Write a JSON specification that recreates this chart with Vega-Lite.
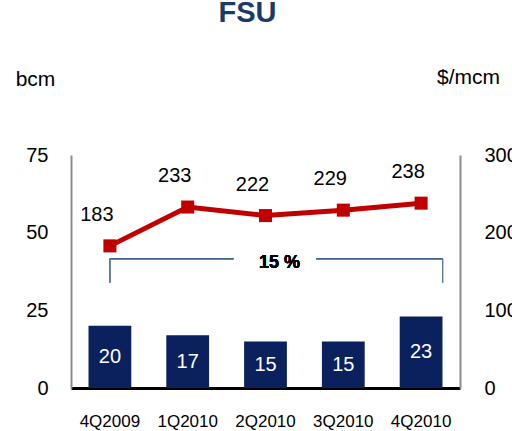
{
  "$schema": "https://vega.github.io/schema/vega-lite/v6.json",
  "width": 389,
  "height": 233,
  "autosize": "none",
  "padding": {"left": 71, "top": 155, "right": 52, "bottom": 43},
  "background": "white",
  "config": {"view": {"stroke": null}, "font": "Liberation Sans"},
  "title": {"text": "FSU", "fontSize": 29, "fontWeight": "bold", "color": "#1B3A66", "anchor": "middle", "frame": "group", "offset": 38, "dx": -18, "font": "Liberation Sans"},
  "data": {"values": [
    {"q": "4Q2009", "bcm": 20, "price": 183},
    {"q": "1Q2010", "bcm": 17, "price": 233},
    {"q": "2Q2010", "bcm": 15, "price": 222},
    {"q": "3Q2010", "bcm": 15, "price": 229},
    {"q": "4Q2010", "bcm": 23, "price": 238}
  ]},
  "layer": [
    {
      "mark": {"type": "bar", "color": "#0A215E"},
      "encoding": {
        "x": {"field": "q", "type": "nominal", "sort": null,
              "scale": {"paddingInner": 0.45, "paddingOuter": 0.225},
              "axis": {"title": null, "labelAngle": 0, "ticks": false, "domainColor": "#000000", "domainWidth": 3, "labelPadding": 25, "labelFontSize": 17, "labelColor": "#000000", "labelBaseline": "top"}},
        "y": {"field": "bcm", "type": "quantitative", "scale": {"domain": [0, 75]},
              "axis": {"values": [0, 25, 50, 75], "grid": false, "ticks": false, "domainColor": "#8C8C8C", "domainWidth": 2, "labelPadding": 23, "labelFontSize": 20, "labelColor": "#000000",
                       "title": "bcm", "titleAngle": 0, "titleX": -36, "titleY": -70, "titleAlign": "center", "titleBaseline": "alphabetic", "titleFontSize": 21, "titleFontWeight": "normal", "titleColor": "#000000"}}
      }
    },
    {
      "mark": {"type": "text", "color": "#FFFFFF", "fontSize": 20, "baseline": "middle"},
      "encoding": {
        "x": {"field": "q", "type": "nominal", "sort": null},
        "y": {"field": "bcm", "type": "quantitative", "scale": {"domain": [0, 150]}, "axis": null},
        "text": {"field": "bcm", "type": "quantitative"}
      }
    },
    {
      "mark": {"type": "line", "color": "#C00000", "strokeWidth": 5, "point": {"shape": "square", "size": 170, "filled": true, "color": "#C00000"}},
      "encoding": {
        "x": {"field": "q", "type": "nominal", "sort": null},
        "y": {"field": "price", "type": "quantitative", "scale": {"domain": [0, 300]},
              "axis": {"orient": "right", "values": [0, 100, 200, 300], "grid": false, "ticks": false, "domainColor": "#8C8C8C", "domainWidth": 2, "labelPadding": 24, "labelFontSize": 20, "labelColor": "#000000",
                       "title": "$/mcm", "titleAngle": 0, "titleX": 8, "titleY": -72, "titleAlign": "center", "titleBaseline": "alphabetic", "titleFontSize": 21, "titleFontWeight": "normal", "titleColor": "#000000"}}
      }
    },
    {
      "mark": {"type": "text", "color": "#000000", "fontSize": 20, "baseline": "middle", "dx": -13, "dy": -31},
      "encoding": {
        "x": {"field": "q", "type": "nominal", "sort": null},
        "y": {"field": "price", "type": "quantitative", "scale": {"domain": [0, 300]}, "axis": null},
        "text": {"field": "price", "type": "quantitative"}
      }
    },
    {
      "mark": {"type": "rule", "color": "#3F5F8A", "strokeWidth": 1, "x2Offset": -32},
      "encoding": {
        "x": {"datum": "4Q2009"},
        "x2": {"datum": "2Q2010"},
        "y": {"datum": 41.6, "type": "quantitative", "scale": {"domain": [0, 75]}, "axis": null}
      }
    },
    {
      "mark": {"type": "rule", "color": "#3F5F8A", "strokeWidth": 1, "xOffset": -27, "x2Offset": 21.5},
      "encoding": {
        "x": {"datum": "3Q2010"},
        "x2": {"datum": "4Q2010"},
        "y": {"datum": 41.6, "type": "quantitative", "scale": {"domain": [0, 75]}, "axis": null}
      }
    },
    {
      "mark": {"type": "rule", "color": "#5F7A9E", "strokeWidth": 1},
      "encoding": {
        "x": {"datum": "4Q2009"},
        "y": {"datum": 41.6, "type": "quantitative", "scale": {"domain": [0, 75]}, "axis": null},
        "y2": {"datum": 33.9}
      }
    },
    {
      "mark": {"type": "rule", "color": "#5F7A9E", "strokeWidth": 1, "xOffset": 21.5},
      "encoding": {
        "x": {"datum": "4Q2010"},
        "y": {"datum": 41.6, "type": "quantitative", "scale": {"domain": [0, 75]}, "axis": null},
        "y2": {"datum": 33.9}
      }
    },
    {
      "mark": {"type": "text", "text": "15 %", "fontSize": 18, "fontWeight": "bold", "color": "#000000", "baseline": "middle", "dx": 14, "dy": 4},
      "encoding": {
        "x": {"datum": "2Q2010"},
        "y": {"datum": 41.6, "type": "quantitative", "scale": {"domain": [0, 75]}, "axis": null}
      }
    }
  ],
  "resolve": {"scale": {"y": "independent"}}
}
